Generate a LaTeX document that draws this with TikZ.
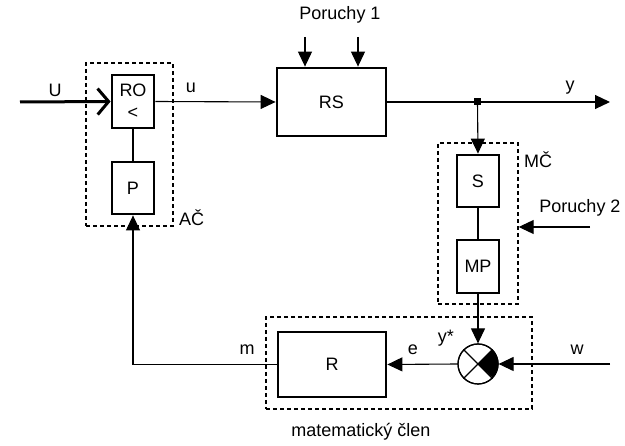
\documentclass[tikz,border=0pt]{standalone}
\usepackage{fontspec}
\setmainfont{Liberation Sans}
\usetikzlibrary{arrows.meta,positioning,calc}
\begin{document}
\begin{tikzpicture}[x=1pt,y=-1pt,
  font=\fontsize{18}{20}\selectfont,
  blk/.style={draw, line width=2.8pt, fill=white, inner sep=0pt},
  grp/.style={draw, dashed, line width=1.4pt, dash pattern=on 4pt off 3pt, inner sep=0pt},
  conn/.style={line width=1.1pt},
  arr/.style={conn, -{Triangle[length=15pt,width=14pt]}},
  lbl/.style={inner sep=0pt}
]
\useasboundingbox (0,0) rectangle (625,446);
% groups
\node[grp, minimum width=87pt, minimum height=163pt] (AC) at (129.5,144.5) {};
\node[grp, minimum width=80pt, minimum height=161pt] (MC) at (478,223.5) {};
\node[grp, minimum width=266pt, minimum height=92pt] (MATH) at (399,363) {};
% blocks
\node[blk, minimum width=42pt, minimum height=53pt, align=center] (RO) at (133,101.5) {RO\\[2pt]<};
\node[blk, minimum width=42pt, minimum height=52pt] (P) at (133,188) {P};
\node[blk, minimum width=109pt, minimum height=68pt] (RS) at (331.5,102) {RS};
\node[blk, minimum width=42pt, minimum height=52pt] (S) at (478,181) {S};
\node[blk, minimum width=42pt, minimum height=53pt] (MP) at (478,266.5) {MP};
\node[blk, minimum width=108pt, minimum height=65pt] (R) at (332,364.5) {R};
\node[circle, draw, line width=1.2pt, fill=white, minimum size=40pt, inner sep=0pt] (SUM) at (478,364) {};
\fill (SUM.center) -- (SUM.north east) arc(45:-45:20pt) -- cycle;
\draw[line width=1.2pt] (SUM.north west) -- (SUM.south east) (SUM.north east) -- (SUM.south west);
\draw[line width=1.2pt] (SUM) circle (20pt);
% coordinates
\coordinate (Uin) at (20,102);
\coordinate (yend) at (610,102);
\coordinate (j) at (477.5,102);
\coordinate (p1a) at (305,37);
\coordinate (p1b) at (358,37);
\coordinate (p2) at (590,227);
\coordinate (win) at (610,364);
\coordinate (mc) at (133,364.5);
% connectors
\draw[line width=3pt, -{Straight Barb[length=11pt,width=26pt,line width=3pt]}] (Uin) -- (RO.west);
\draw[arr] (RO.east) -- (RS.west);
\draw[arr] (p1a) -- (p1a |- RS.north);
\draw[arr] (p1b) -- (p1b |- RS.north);
\draw[arr] (RS.east) -- (yend);
\fill ($(j)+(-3.5,-3.5)$) rectangle ($(j)+(3.5,3.5)$);
\draw[arr] (j) -- (S.north);
\draw[conn] (RO.south) -- (P.north);
\draw[conn] (S.south) -- (MP.north);
\draw[arr] (MP.south) -- (SUM.north);
\draw[arr] (win) -- (SUM.east);
\draw[arr] (SUM.west) -- (R.east);
\draw[arr] (R.west) -- (mc) -- (P.south);
\draw[arr] (p2) -- (p2 -| MC.east);
% labels
\node[lbl] at (55,90) {U};
\node[lbl] at (191,88) {u};
\node[lbl] at (570,88) {y};
\node[lbl] at (340,15) {Poruchy 1};
\node[lbl, anchor=west] at (524,160) {MČ};
\node[lbl] at (580,208) {Poruchy 2};
\node[lbl, anchor=west] at (179,218) {AČ};
\node[lbl] at (446,338) {y*};
\node[lbl] at (413,350) {e};
\node[lbl] at (577,350) {w};
\node[lbl] at (247,350) {m};
\node[lbl] at (361,432) {matematický člen};
\end{tikzpicture}
\end{document}
